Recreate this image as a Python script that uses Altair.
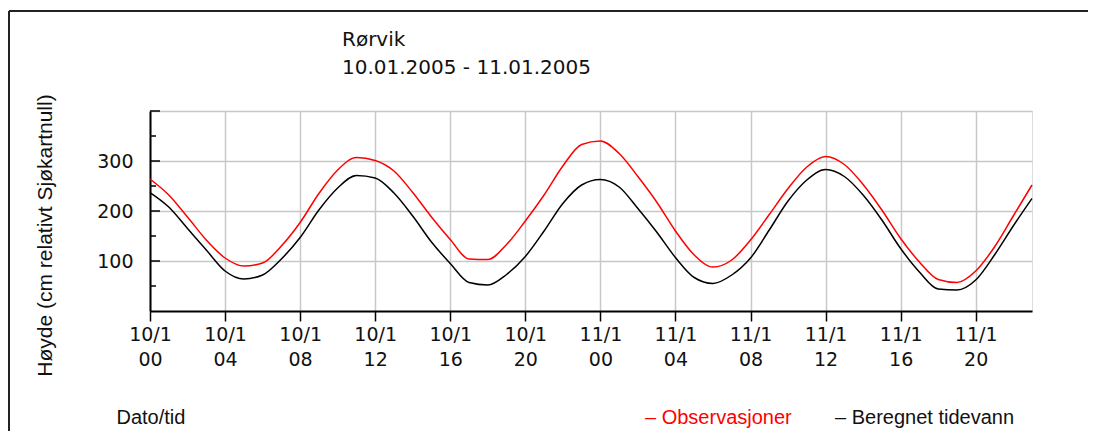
import altair as alt
import pandas as pd

# ---- data ----
hours = [0, 1, 2, 3, 4, 5, 6, 7, 8, 9, 10, 11, 12, 13, 14, 15, 16, 17, 18, 19, 20, 21, 22, 23,
         24, 25, 26, 27, 28, 29, 30, 31, 32, 33, 34, 35, 36, 37, 38, 39, 40, 41, 42, 43, 44, 45, 46, 47]
observasjoner = [264, 232, 188, 142, 106, 90, 96, 130, 177, 235, 282, 307,
                 301, 280, 237, 188, 143, 104, 103, 133, 180, 232, 290, 333,
                 340, 315, 269, 218, 160, 112, 88, 102, 142, 193, 245, 288,
                 309, 293, 253, 202, 145, 98, 63, 57, 80, 128, 190, 252]
beregnet = [237, 208, 165, 122, 80, 64, 72, 104, 147, 202, 246, 271,
            266, 236, 190, 138, 95, 57, 52, 73, 109, 160, 215, 252,
            263, 248, 205, 158, 107, 67, 55, 72, 106, 162, 220, 262,
            283, 269, 232, 182, 125, 78, 44, 42, 62, 112, 170, 225]
series_names = ["Observasjoner", "Beregnet tidevann"]
series_colors = ["#ff0000", "#000000"]

x_tick_hours = [0, 4, 8, 12, 16, 20, 24, 28, 32, 36, 40, 44]
x_tick_dates = ["10/1", "10/1", "10/1", "10/1", "10/1", "10/1",
                "11/1", "11/1", "11/1", "11/1", "11/1", "11/1"]
x_tick_times = ["00", "04", "08", "12", "16", "20", "00", "04", "08", "12", "16", "20"]
y_grid_values = [100, 200, 300, 400]
y_label_values = [100, 200, 300]
y_minor_values = [50, 150, 250, 350]

title_lines = ["Rørvik", "10.01.2005 - 11.01.2005"]
x_title = "Dato/tid"
y_title = "Høyde (cm relativt Sjøkartnull)"

# ---- build ----
df = pd.DataFrame({
    "t": hours + hours,
    "v": observasjoner + beregnet,
    "serie": [series_names[0]] * len(hours) + [series_names[1]] * len(hours),
})

x_label_arr = "[" + ",".join(f"['{d}','{t}']" for d, t in zip(x_tick_dates, x_tick_times)) + "]"
x_label_expr = f"{x_label_arr}[indexof({x_tick_hours}, datum.value)]"
y_label_expr = f"indexof({y_label_values}, datum.value) >= 0 ? datum.label : ''"

x_scale = alt.Scale(domain=[0, 47], nice=False, zero=False)
y_scale = alt.Scale(domain=[0, 400], nice=False)

TXT = "#111111"
GRID = "#c8c8c8"

x_axis = alt.Axis(
    values=x_tick_hours, labelExpr=x_label_expr, grid=True, gridColor=GRID, gridWidth=1.5,
    ticks=True, tickSize=10, tickColor="#000000", tickWidth=1.5,
    domainColor="#000000", domainWidth=2,
    labelFont="DejaVu Sans", labelFontSize=19, labelColor=TXT, labelLineHeight=25,
    labelBaseline="top", labelPadding=4, labelAlign="center", labelFlush=False, labelOverlap=False,
    titleFont="Liberation Sans", titleFontSize=20, titleFontWeight="normal", titleColor=TXT,
    titleX=-34, titleY=106, titleAlign="left", titleBaseline="middle",
)
y_axis = alt.Axis(
    values=y_grid_values, labelExpr=y_label_expr, grid=True, gridColor=GRID, gridWidth=1.5,
    ticks=False, tickSize=0, domainColor="#000000", domainWidth=2,
    labelFont="DejaVu Sans", labelFontSize=19, labelColor=TXT, labelPadding=17,
    titleFont="Liberation Sans", titleFontSize=21, titleFontWeight="normal", titleColor=TXT,
    titleX=-105, titleY=124, titleAngle=270, titleAlign="center", titleBaseline="middle",
)

Y = alt.Y("v:Q", scale=y_scale, axis=y_axis, title=y_title)

lines = alt.Chart(df).mark_line(strokeWidth=1.5, interpolate="monotone").encode(
    x=alt.X("t:Q", scale=x_scale, axis=x_axis, title=x_title),
    y=Y,
    color=alt.Color("serie:N", scale=alt.Scale(domain=series_names, range=series_colors), legend=None),
)

major_ticks = alt.Chart(pd.DataFrame({"v": y_grid_values})).mark_rule(
    color="#000000", strokeWidth=1.5
).encode(y=Y, x=alt.value(0), x2=alt.value(10))
minor_ticks = alt.Chart(pd.DataFrame({"v": y_minor_values})).mark_rule(
    color="#000000", strokeWidth=1.5
).encode(y=Y, x=alt.value(0), x2=alt.value(6))

one = alt.Data(values=[{}])
frame_top = alt.Chart(one).mark_rule(color="#222222", strokeWidth=2).encode(
    x=alt.value(-141), x2=alt.value(960), y=alt.value(-100)
)
frame_left = alt.Chart(one).mark_rule(color="#222222", strokeWidth=2).encode(
    x=alt.value(-141), y=alt.value(-100), y2=alt.value(340)
)

title_1 = alt.Chart(one).mark_text(
    align="left", baseline="middle", font="DejaVu Sans", fontSize=20, color=TXT
).encode(x=alt.value(192), y=alt.value(-71), text=alt.value(title_lines[0]))
title_2 = alt.Chart(one).mark_text(
    align="left", baseline="middle", font="DejaVu Sans", fontSize=20, color=TXT
).encode(x=alt.value(192), y=alt.value(-43), text=alt.value(title_lines[1]))

legend_obs = alt.Chart(one).mark_text(
    align="left", baseline="middle", font="Liberation Sans", fontSize=20, color=series_colors[0]
).encode(x=alt.value(495), y=alt.value(307), text=alt.value("– " + series_names[0]))
legend_ber = alt.Chart(one).mark_text(
    align="left", baseline="middle", font="Liberation Sans", fontSize=20, color=TXT
).encode(x=alt.value(685), y=alt.value(307), text=alt.value("– " + series_names[1]))

chart = alt.layer(
    lines, major_ticks, minor_ticks, frame_top, frame_left, title_1, title_2, legend_obs, legend_ber
).properties(
    width=882, height=200,
    autosize=alt.AutoSizeParams(type="none"),
    padding={"left": 142, "top": 103, "right": 56, "bottom": 120},
).configure_view(stroke=None).configure(background="#ffffff")

chart.save("out.html", embed_options={"renderer": "svg", "actions": False})
